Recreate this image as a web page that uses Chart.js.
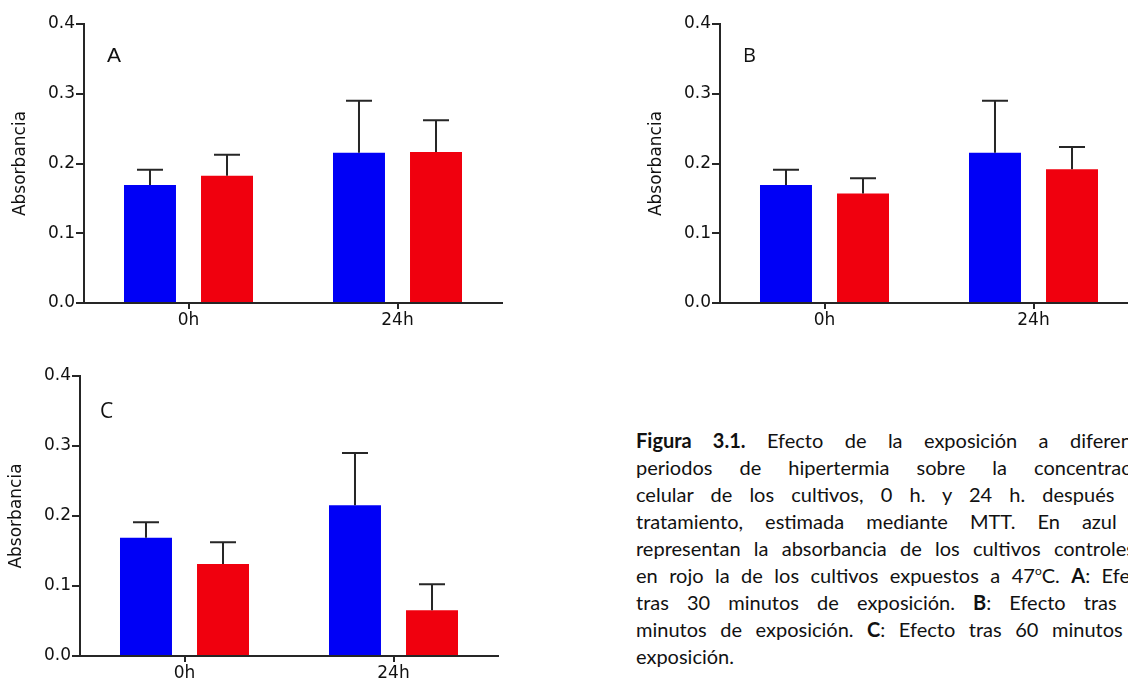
<!DOCTYPE html>
<html>
<head>
<meta charset="utf-8">
<script src="https://cdn.jsdelivr.net/npm/chart.js@4.4.0/dist/chart.umd.min.js"></script>
<style>
  html, body { margin: 0; padding: 0; background: #fff; }
  body { width: 1128px; height: 682px; overflow: hidden; position: relative; }
  canvas { position: absolute; }
  .panel { position: absolute; line-height: 1; color: #111; }
  #caption { position: absolute; left: 636px; top: 427px; width: 522px;
             font-family: Lato, "Open Sans", sans-serif; font-size: 20px; line-height: 27px; color: #111; }
  #caption div { text-align: justify; text-align-last: justify; white-space: nowrap; }
  #caption div.last { text-align-last: left; }
  #caption sup { font-size: 12px; line-height: 0; vertical-align: 8px; }
</style>
</head>
<body>
<canvas id="chartA" width="510" height="335" style="left:0px; top:0px"></canvas>
<canvas id="chartB" width="510" height="335" style="left:636px; top:0px"></canvas>
<canvas id="chartC" width="510" height="336" style="left:-4px; top:352px"></canvas>

<div class="panel" style="left:107px; top:44px; font-family:'Liberation Sans', Arial; font-size:21px">A</div>
<div class="panel" style="left:743px; top:45px; font-family:'Open Sans'; font-size:20px">B</div>
<div class="panel" style="left:100px; top:400px; font-family:'Open Sans'; font-size:21px">C</div>

<div id="caption">
  <div><b>Figura 3.1.</b> Efecto de la exposición a diferentes</div>
  <div>periodos de hipertermia sobre la concentración</div>
  <div>celular de los cultivos, 0 h. y 24 h. después del</div>
  <div>tratamiento, estimada mediante MTT. En azul se</div>
  <div>representan la absorbancia de los cultivos controles y</div>
  <div>en rojo la de los cultivos expuestos a 47<sup>o</sup>C. <b>A</b>: Efecto</div>
  <div>tras 30 minutos de exposición. <b>B</b>: Efecto tras 45</div>
  <div>minutos de exposición. <b>C</b>: Efecto tras 60 minutos de</div>
  <div class="last">exposición.</div>
</div>

<script>
// tiempos tras el tratamiento
const tiempos = ["0h", "24h"];
const yTicks = [0.0, 0.1, 0.2, 0.3, 0.4];

// control (azul), igual en los tres paneles
const controlMedia = [0.169, 0.2155];
const controlSem = [0.022, 0.0745];

// A: 30 min a 47 °C
const mediaA = [0.1825, 0.2165];
const semA = [0.030, 0.0455];

// B: 45 min
const mediaB = [0.157, 0.1917];
const semB = [0.022, 0.032];

// C: 60 min
const mediaC = [0.1316, 0.0654];
const semC = [0.031, 0.037];

const AXIS_COLOR = "#262626";
const BLUE = "#0000f6";
const RED = "#f0000e";
const FONT = "'DejaVu Sans', sans-serif";

// barras de error (solo hacia arriba, como en GraphPad)
const errorBars = {
  id: "errorBars",
  afterDatasetsDraw(chart) {
    const ctx = chart.ctx;
    const y = chart.scales.y;
    ctx.save();
    ctx.strokeStyle = AXIS_COLOR;
    ctx.lineWidth = 2;
    chart.data.datasets.forEach((ds, i) => {
      const meta = chart.getDatasetMeta(i);
      meta.data.forEach((bar, j) => {
        const top = y.getPixelForValue(ds.data[j] + ds.sem[j]);
        const base = y.getPixelForValue(ds.data[j]);
        ctx.beginPath();
        ctx.moveTo(bar.x, base);
        ctx.lineTo(bar.x, top);
        ctx.moveTo(bar.x - 13, top);
        ctx.lineTo(bar.x + 13, top);
        ctx.stroke();
      });
    });
    ctx.restore();
  }
};

function makeChart(id, media, sem, xAxisHeight) {
  new Chart(document.getElementById(id), {
    type: "bar",
    data: {
      labels: tiempos,
      datasets: [
        { label: "Control", data: controlMedia, sem: controlSem, backgroundColor: BLUE, borderWidth: 0 },
        { label: "47 °C", data: media, sem: sem, backgroundColor: RED, borderWidth: 0 }
      ]
    },
    options: {
      responsive: false,
      animation: false,
      barPercentage: 0.675,
      categoryPercentage: 0.737,
      layout: { padding: { top: 24, right: 8 } },
      plugins: { legend: { display: false }, tooltip: { enabled: false } },
      scales: {
        x: {
          offset: true,
          grid: { offset: false, drawOnChartArea: false, drawTicks: true, tickLength: 6, color: AXIS_COLOR, lineWidth: 2 },
          border: { color: AXIS_COLOR, width: 2 },
          ticks: { color: "#111", font: { family: FONT, size: 17 }, padding: 1 },
          afterFit: (s) => { s.height = xAxisHeight; }
        },
        y: {
          min: 0,
          max: 0.4,
          afterBuildTicks: (s) => { s.ticks = yTicks.map(v => ({ value: v })); },
          grid: { drawOnChartArea: false, drawTicks: true, tickLength: 8, color: AXIS_COLOR, lineWidth: 2 },
          border: { color: AXIS_COLOR, width: 2 },
          ticks: { color: "#111", font: { family: FONT, size: 17 }, padding: 1,
                   callback: (v) => Number(v).toFixed(1) },
          title: { display: true, text: "Absorbancia", color: "#111",
                   font: { family: FONT, size: 17 }, padding: { top: 10 } },
          afterFit: (s) => { s.width = 84; }
        }
      }
    },
    plugins: [errorBars]
  });
}

makeChart("chartA", mediaA, semA, 32);
makeChart("chartB", mediaB, semB, 32);
makeChart("chartC", mediaC, semC, 32);
</script>
</body>
</html>
